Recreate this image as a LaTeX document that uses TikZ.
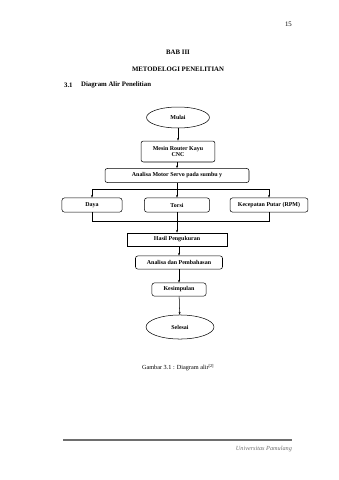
\documentclass[tikz,border=0pt]{standalone}
\usepackage{fontspec}
\setmainfont{Liberation Serif}
\usetikzlibrary{shapes.geometric, arrows.meta, positioning}

\begin{document}
\begin{tikzpicture}[
    x=0.06195cm, y=-0.06195cm,
    % Styles
    terminal/.style={
        ellipse, draw=black, fill=white,
        line width=0.9pt,
        minimum width=3.9cm, minimum height=1.3cm,
        font=\fontsize{10.5}{12}\selectfont\bfseries,
        inner sep=0pt
    },
    process/.style={
        rectangle, rounded corners=4pt,
        draw=black, fill=white,
        line width=0.9pt,
        minimum height=0.87cm,
        font=\fontsize{10.5}{12}\selectfont\bfseries,
        align=center, inner sep=1pt
    },
    arrow/.style={
        -{Stealth[length=5pt, width=3.5pt]},
        line width=0.9pt, color=black
    },
    line/.style={line width=0.9pt, color=black},
    bodytext/.style={font=\fontsize{12}{14}\selectfont, inner sep=0pt},
]
% Define colors
\definecolor{footgray}{RGB}{110,110,110}

\useasboundingbox (0,0) rectangle (339,480);

% Page header
\node[bodytext, anchor=east] (pagenum) at (292,24) {15};
\node[bodytext, font=\fontsize{12}{14}\selectfont\bfseries] (bab) at (178,52) {BAB III};
\node[bodytext, font=\fontsize{12}{14}\selectfont\bfseries] (judul) at (178,69) {METODELOGI PENELITIAN};
\node[bodytext, font=\fontsize{12}{14}\selectfont\bfseries, anchor=west] (subnum) at (64,85) {3.1};
\node[bodytext, font=\fontsize{12}{14}\selectfont\bfseries, anchor=west] (subjudul) at (81,85) {Diagram Alir Penelitian};

% Flowchart nodes
\node[terminal] (mulai) at (178,117.5) {Mulai};
\node[process, minimum width=4.58cm, minimum height=1.3cm] (mesin) at (178,151.5) {Mesin Router Kayu\\CNC};
\node[process, minimum width=8.92cm] (servo) at (177,175.5) {Analisa Motor Servo pada sumbu y};
\node[process, minimum width=3.72cm] (daya) at (92,205) {Daya};
\node[process, minimum width=4.03cm] (torsi) at (177,205) {Torsi};
\node[process, minimum width=4.83cm] (rpm) at (269,205) {Kecepatan Putar (RPM)};
\node[process, rounded corners=0pt, minimum width=6.2cm, minimum height=0.81cm] (hasil) at (177,239.5) {Hasil Pengukuran};
\node[process, minimum width=5.39cm, minimum height=0.81cm] (bahas) at (179,262.5) {Analisa dan Pembahasan};
\node[process, minimum width=3.35cm, minimum height=0.81cm] (simpul) at (179,289.5) {Kesimpulan};
\node[terminal, minimum width=4.21cm, minimum height=1.49cm] (selesai) at (180,327) {Selesai};

% Split and merge points
\coordinate (split) at (177,189.5);
\coordinate (merge) at (177,221);

% Arrows
\draw[arrow] (mulai) -- (mesin);
\draw[arrow] (mesin.south -| servo.north) -- (servo);
\draw[line] (servo) -- (split);
\draw[arrow] (split) -| (daya);
\draw[arrow] (split) -- (torsi);
\draw[arrow] (split) -| (rpm);
\draw[line] (daya) |- (merge);
\draw[line] (rpm) |- (merge);
\draw[arrow] (torsi) -- (hasil);
\draw[arrow] (hasil.south -| bahas.north) -- (bahas);
\draw[arrow] (bahas) -- (simpul);
\draw[arrow] (simpul) -- (selesai);

% Caption
\node[bodytext, font=\fontsize{11}{13}\selectfont] (caption) at (178,368) {Gambar 3.1 : Diagram alir\textsuperscript{[2]}};

% Footer
\draw[line width=2pt, color=footgray] (63,440) -- (292,440);
\node[bodytext, font=\fontsize{11}{13}\selectfont\itshape, text=footgray, anchor=east] (univ) at (292,448.5) {Universitas Pamulang};

\end{tikzpicture}
\end{document}
